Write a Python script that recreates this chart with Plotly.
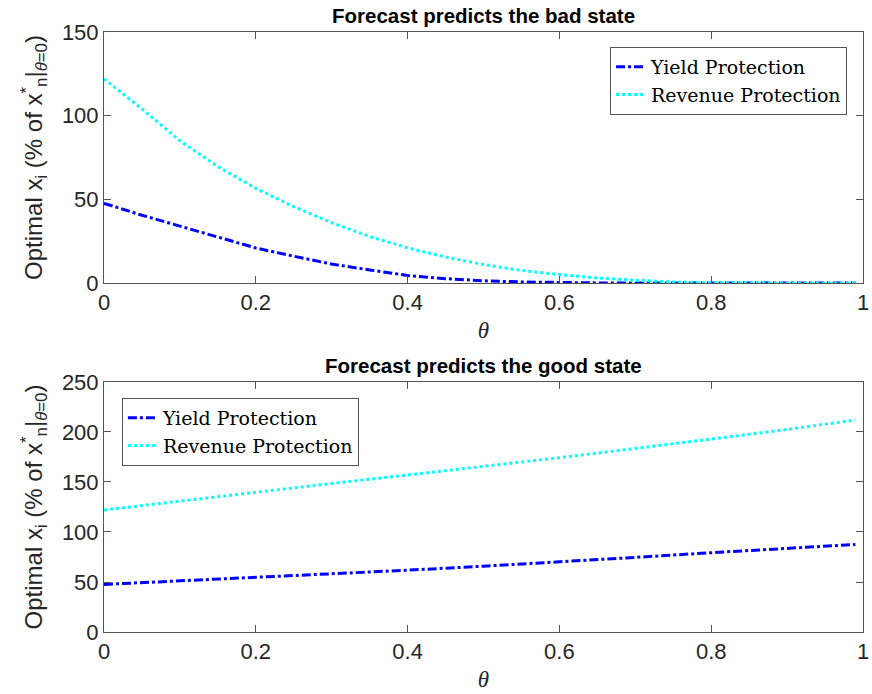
import plotly.graph_objects as go

# ---- data ----
theta_bad = [0.00, 0.05, 0.10, 0.15, 0.20, 0.25, 0.30, 0.35, 0.40, 0.45, 0.50,
             0.55, 0.60, 0.65, 0.70, 0.75, 0.80, 0.85, 0.90, 0.95, 0.99]
yield_bad = [47.6, 40.5, 34.0, 27.5, 20.9, 16.0, 11.3, 7.8, 4.5, 2.6, 1.3,
             0.6, 0.2, 0.05, 0.0, 0.0, 0.0, 0.0, 0.0, 0.0, 0.0]
revenue_bad = [122.0, 104.0, 85.0, 69.6, 56.5, 45.6, 36.0, 27.8, 21.0, 15.5, 11.0,
               7.5, 5.0, 3.0, 1.6, 0.6, 0.1, 0.0, 0.0, 0.0, 0.0]

theta_good = [0.00, 0.10, 0.20, 0.30, 0.40, 0.50, 0.60, 0.70, 0.80, 0.90, 0.99]
yield_good = [47.6, 51.0, 54.3, 58.0, 61.8, 65.8, 70.0, 74.6, 79.3, 83.6, 87.5]
revenue_good = [122.0, 131.0, 140.0, 148.5, 157.0, 165.5, 174.3, 183.5, 193.0, 202.5, 212.0]

titles = ["Forecast predicts the bad state", "Forecast predicts the good state"]
series_names = ["Yield Protection", "Revenue Protection"]
x_ticks = [0, 0.2, 0.4, 0.6, 0.8, 1]
x_tick_text = ["0", "0.2", "0.4", "0.6", "0.8", "1"]
y_ticks_top = [0, 50, 100, 150]
y_ticks_bot = [0, 50, 100, 150, 200, 250]

BLUE = "#0000ff"
CYAN = "#00ffff"
AX = "#262626"
AXLINE = "#555555"

fig = go.Figure()
fig.add_trace(go.Scatter(x=theta_bad, y=yield_bad, name=series_names[0], mode="lines",
                         line=dict(color=BLUE, width=3, dash="dashdot"),
                         xaxis="x", yaxis="y", legend="legend"))
fig.add_trace(go.Scatter(x=theta_bad, y=revenue_bad, name=series_names[1], mode="lines",
                         line=dict(color=CYAN, width=3, dash="dot"),
                         xaxis="x", yaxis="y", legend="legend"))
fig.add_trace(go.Scatter(x=theta_good, y=yield_good, name=series_names[0], mode="lines",
                         line=dict(color=BLUE, width=3, dash="dashdot"),
                         xaxis="x2", yaxis="y2", legend="legend2"))
fig.add_trace(go.Scatter(x=theta_good, y=revenue_good, name=series_names[1], mode="lines",
                         line=dict(color=CYAN, width=3, dash="dot"),
                         xaxis="x2", yaxis="y2", legend="legend2"))

SANS = "Liberation Sans, Arial, sans-serif"
tickfont = dict(family=SANS, size=22, color=AX)
common_x = dict(range=[0, 1], autorange=False, tickmode="array", tickvals=x_ticks,
                ticktext=x_tick_text, ticks="inside", ticklabeloverflow="allow",
                ticklen=7, tickcolor=AXLINE, showline=True, linecolor=AXLINE, linewidth=1,
                mirror="ticks", showgrid=False, zeroline=False, tickfont=tickfont,
                automargin=False,
                title=dict(text="<i>θ</i>", font=dict(family="Liberation Serif, serif", size=23, color=AX),
                           standoff=7))
common_y = dict(ticks="inside", ticklen=7, tickcolor=AXLINE, showline=True, linecolor=AXLINE,
                linewidth=1, mirror="ticks", showgrid=False, zeroline=False, tickfont=tickfont,
                automargin=False, autorange=False, tickmode="array", ticklabeloverflow="allow",
                title=dict(text="Optimal x<sub>i</sub> (% of x<sup>*</sup><sub>n</sub>|<sub><i>θ</i>=0</sub>)",
                           font=dict(family=SANS, size=24, color=AX),
                           standoff=12))

legfont = dict(family="DejaVu Serif, Liberation Serif, serif", size=19, color="#000000")

fig.update_layout(
    width=872, height=694,
    paper_bgcolor="white", plot_bgcolor="white",
    margin=dict(l=104, r=9, t=32, b=62, autoexpand=False),
    xaxis=dict(domain=[0, 1], anchor="y", **common_x),
    yaxis=dict(domain=[0.5817, 1], anchor="x", range=[0, 150], tickvals=y_ticks_top, **common_y),
    xaxis2=dict(domain=[0, 1], anchor="y2", **common_x),
    yaxis2=dict(domain=[0, 0.4167], anchor="x2", range=[0, 250], tickvals=y_ticks_bot, **common_y),
    legend=dict(x=0.979, y=0.975, xanchor="right", yanchor="top", bgcolor="white",
                bordercolor=AXLINE, borderwidth=1, font=legfont, tracegroupgap=0),
    legend2=dict(x=0.0236, y=0.39, xanchor="left", yanchor="top", bgcolor="white",
                 bordercolor=AXLINE, borderwidth=1, font=legfont, tracegroupgap=0),
    showlegend=True,
    annotations=[
        dict(text="<b>" + titles[0] + "</b>", x=0.5, y=1.0, xref="paper", yref="paper",
             xanchor="center", yanchor="bottom", yshift=3, showarrow=False,
             font=dict(family=SANS, size=20.5, color="#000000")),
        dict(text="<b>" + titles[1] + "</b>", x=0.5, y=0.4167, xref="paper", yref="paper",
             xanchor="center", yanchor="bottom", yshift=3, showarrow=False,
             font=dict(family=SANS, size=20.5, color="#000000")),
    ],
)

fig.write_html("out.html", config={"displayModeBar": False},
               post_script="document.body.style.margin='0';document.body.style.overflow='hidden';")
